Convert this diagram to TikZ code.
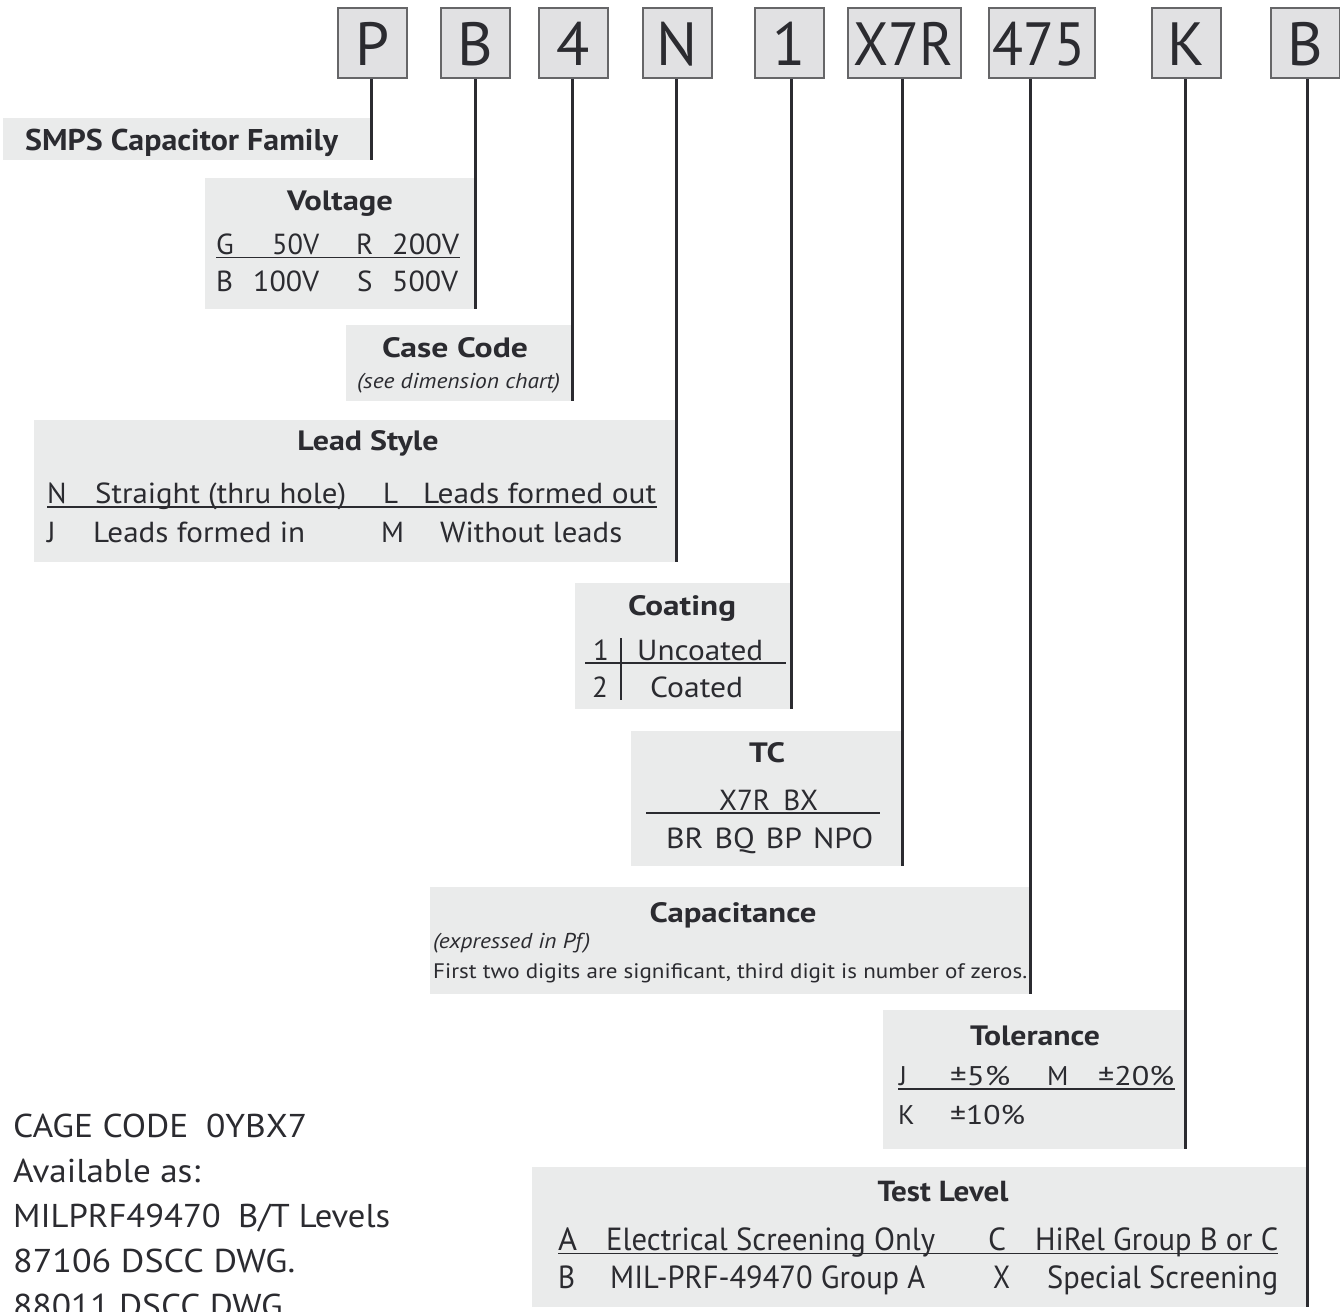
\documentclass[tikz,border=0pt]{standalone}
\usepackage{fontspec}
\setmainfont{PT Sans}
\usepackage{graphicx}
\definecolor{ink}{HTML}{2B2B30}
\definecolor{panelgray}{HTML}{EAEBEB}
\definecolor{codegray}{HTML}{E1E1E3}
\definecolor{codeedge}{HTML}{666668}
\newcommand\Tw[5]{\node[#1,anchor=base west] (#2) at (#3) {\resizebox{#4pt}{\height}{#5}};}
\newcommand\Tc[5]{\node[#1,anchor=base] (#2) at (#3) {\resizebox{#4pt}{\height}{#5}};}
\begin{document}
\begin{tikzpicture}[x=1pt,y=-1pt,
  panel/.style={fill=panelgray,draw=none,inner sep=0,anchor=north west},
  codebox/.style={fill=codegray,draw=codeedge,line width=2pt,inner sep=0,anchor=north west},
  codeletter/.style={inner sep=0,text=ink,font=\fontsize{61}{61}\selectfont},
  conn/.style={draw=ink,line width=2.6pt},
  rule/.style={draw=ink,line width=1.6pt},
  title/.style={inner sep=0,text=ink,font=\bfseries\fontsize{28}{28}\selectfont},
  rowtxt/.style={inner sep=0,text=ink,font=\fontsize{29}{29}\selectfont},
  tolrow/.style={inner sep=0,text=ink,font=\fontsize{27}{27}\selectfont},
  testrow/.style={inner sep=0,text=ink,font=\fontsize{32}{32}\selectfont},
  testtitle/.style={inner sep=0,text=ink,font=\bfseries\fontsize{29}{29}\selectfont},
  smalltxt/.style={inner sep=0,text=ink,font=\fontsize{21}{21}\selectfont},
  italtxt/.style={inner sep=0,text=ink,font=\itshape\fontsize{21.5}{21.5}\selectfont},
  cagetxt/.style={inner sep=0,text=ink,font=\fontsize{33}{33}\selectfont}]
\useasboundingbox[fill=white] (0,0) rectangle (1340,1311);

% ---------- code boxes ----------
\node[codebox,minimum width=69pt,minimum height=70pt] (cP) at (337,7) {};
\node[codebox,minimum width=69pt,minimum height=70pt] (cB) at (440,7) {};
\node[codebox,minimum width=69pt,minimum height=70pt] (c4) at (538,7) {};
\node[codebox,minimum width=69pt,minimum height=70pt] (cN) at (642,7) {};
\node[codebox,minimum width=69pt,minimum height=70pt] (c1) at (754,7) {};
\node[codebox,minimum width=113pt,minimum height=70pt] (cX) at (847,7) {};
\node[codebox,minimum width=106pt,minimum height=70pt] (c475) at (988,7) {};
\node[codebox,minimum width=69pt,minimum height=70pt] (cK) at (1151,7) {};
\node[codebox,minimum width=69pt,minimum height=70pt] (cB2) at (1270,7) {};

\node[codeletter,anchor=base] (tP) at (373,66) {P};
\node[codeletter,anchor=base] (tB) at (475,66) {B};
\node[codeletter,anchor=base] (t4) at (573,66) {4};
\node[codeletter,anchor=base] (tN) at (677,66) {N};
\node[codeletter,anchor=base] (t1) at (789,66) {1};
\node[codeletter,anchor=base] (tX) at (903,66) {\resizebox{100pt}{\height}{X7R}};
\node[codeletter,anchor=base] (t475) at (1039,66) {\resizebox{93pt}{\height}{475}};
\node[codeletter,anchor=base] (tK) at (1186,66) {K};
\node[codeletter,anchor=base] (tB2) at (1305,66) {B};

% ---------- panels ----------
\node[panel,minimum width=368pt,minimum height=42pt] (pFam) at (3,118) {};
\node[panel,minimum width=270pt,minimum height=131pt] (pVolt) at (205,178) {};
\node[panel,minimum width=226pt,minimum height=76pt] (pCase) at (346,325) {};
\node[panel,minimum width=642pt,minimum height=142pt] (pLead) at (34,420) {};
\node[panel,minimum width=216pt,minimum height=126pt] (pCoat) at (575,583) {};
\node[panel,minimum width=271pt,minimum height=135pt] (pTC) at (631,731) {};
\node[panel,minimum width=600pt,minimum height=107pt] (pCap) at (430,887) {};
\node[panel,minimum width=302pt,minimum height=139pt] (pTol) at (883,1010) {};
\node[panel,minimum width=775pt,minimum height=140pt] (pTest) at (532,1167) {};

% ---------- connectors ----------
\draw[conn] (cP.south -| pFam.east) -- (pFam.south east);
\draw[conn] (cB.south -| pVolt.east) -- (pVolt.south east);
\draw[conn] (c4.south -| pCase.east) -- (pCase.south east);
\draw[conn] (cN.south -| pLead.east) -- (pLead.south east);
\draw[conn] (c1.south -| pCoat.east) -- (pCoat.south east);
\draw[conn] (cX.south -| pTC.east) -- (pTC.south east);
\draw[conn] (c475.south -| pCap.east) -- (pCap.south east);
\draw[conn] (cK.south -| pTol.east) -- (pTol.south east);
\draw[conn] (cB2.south -| pTest.east) -- (pTest.south east);

% ---------- SMPS family ----------
\node[title,font=\bfseries\fontsize{30}{30}\selectfont,anchor=base west] (fam) at (25,150) {\resizebox{313pt}{\height}{SMPS Capacitor Family}};

% ---------- Voltage ----------
\Tc{title}{volt}{340,210}{106}{Voltage}
\node[rowtxt,anchor=base west] (vG) at (216,254) {G};
\Tw{rowtxt}{v50}{272,254}{47}{50V}
\node[rowtxt,anchor=base west] (vR) at (356,254) {R};
\Tw{rowtxt}{v200}{392,254}{67}{200V}
\node[rowtxt,anchor=base west] (vB) at (216,291) {B};
\Tw{rowtxt}{v100}{253,291}{66}{100V}
\node[rowtxt,anchor=base west] (vS) at (357,291) {S};
\Tw{rowtxt}{v500}{392,291}{66}{500V}
\draw[rule] (216,257.5) -- (460,257.5);

% ---------- Case code ----------
\Tc{title}{case}{455,357}{146}{Case Code}
\Tw{italtxt}{caseN}{357,388}{203}{(see dimension chart)}

% ---------- Lead style ----------
\Tc{title}{lead}{368,450}{141}{Lead Style}
\node[rowtxt,anchor=base west] (lN) at (47,503) {N};
\Tw{rowtxt}{lNt}{95,503}{251}{Straight (thru hole)}
\node[rowtxt,anchor=base west] (lL) at (383,503) {L};
\Tw{rowtxt}{lLt}{423,503}{233}{Leads formed out}
\node[rowtxt,anchor=base west] (lJ) at (47,542) {J};
\Tw{rowtxt}{lJt}{93,542}{212}{Leads formed in}
\node[rowtxt,anchor=base west] (lM) at (381,542) {M};
\Tw{rowtxt}{lMt}{440,542}{182}{Without leads}
\draw[rule] (47,507) -- (657,507);

% ---------- Coating ----------
\Tc{title}{coat}{682,615}{108}{Coating}
\node[rowtxt,anchor=base west] (co1) at (593,660) {1};
\Tw{rowtxt}{co1t}{637,660}{126}{Uncoated}
\node[rowtxt,anchor=base west] (co2) at (592,697) {2};
\Tw{rowtxt}{co2t}{650,697}{93}{Coated}
\draw[rule] (585,663) -- (786,663);
\draw[rule] (621,638) -- (621,700);

% ---------- TC ----------
\Tc{title}{tc}{767,762}{36}{TC}
\Tw{rowtxt}{tc1}{719,810}{99}{X7R\hspace{0.45em}BX}
\Tw{rowtxt}{tc2}{666,848}{207}{BR\hspace{0.35em}BQ\hspace{0.35em}BP\hspace{0.35em}NPO}
\draw[rule] (646,813) -- (880,813);

% ---------- Capacitance ----------
\Tc{title}{cap}{733,922}{167}{Capacitance}
\Tw{italtxt}{capI}{433,948}{157}{(expressed in Pf)}
\Tw{smalltxt}{capT}{433,978}{594}{First two digits are significant, third digit is number of zeros.}

% ---------- Tolerance ----------
\Tc{title}{tol}{1035,1045}{130}{Tolerance}
\node[tolrow,anchor=base west] (tJ) at (899,1085) {J};
\Tw{tolrow}{tJt}{950,1085}{60}{±5\%}
\node[tolrow,anchor=base west] (tM) at (1047,1085) {M};
\Tw{tolrow}{tMt}{1098,1085}{76}{±20\%}
\node[tolrow,anchor=base west] (tKk) at (898,1124) {K};
\Tw{tolrow}{tKt}{950,1124}{75}{±10\%}
\draw[rule] (898,1089) -- (1175,1089);

% ---------- Test level ----------
\Tc{testtitle}{test}{943,1201}{131}{Test Level}
\node[testrow,anchor=base west] (xA) at (558,1250) {\resizebox{19pt}{\height}{A}};
\Tw{testrow}{xAt}{606,1250}{329}{Electrical Screening Only}
\node[testrow,anchor=base west] (xC) at (988,1250) {\resizebox{18pt}{\height}{C}};
\Tw{testrow}{xCt}{1035,1250}{243}{HiRel Group B or C}
\node[testrow,anchor=base west] (xB) at (558,1288) {\resizebox{17pt}{\height}{B}};
\Tw{testrow}{xBt}{610,1288}{315}{MIL-PRF-49470 Group A}
\node[testrow,anchor=base west] (xX) at (993,1288) {\resizebox{17pt}{\height}{X}};
\Tw{testrow}{xXt}{1047,1288}{231}{Special Screening}
\draw[rule] (558,1253.5) -- (1278,1253.5);

% ---------- CAGE text ----------
\Tw{cagetxt}{g1}{13,1137}{294}{CAGE CODE\hspace{0.5em}0YBX7}
\Tw{cagetxt}{g2}{13,1182}{187}{Available as:}
\Tw{cagetxt}{g3}{13,1227}{377}{MILPRF49470\hspace{0.5em}B/T Levels}
\Tw{cagetxt}{g4}{13,1272}{282}{87106 DSCC DWG.}
\Tw{cagetxt}{g5}{13,1317}{277}{88011 DSCC DWG.}
\end{tikzpicture}
\end{document}
